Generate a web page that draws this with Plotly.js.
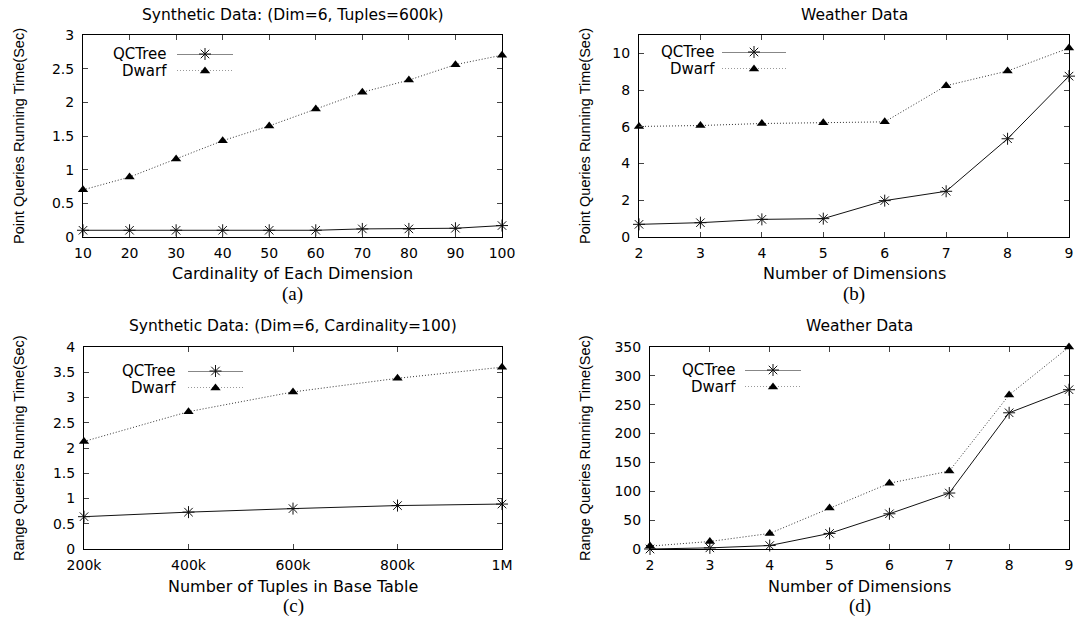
<!DOCTYPE html>
<html>
<head>
<meta charset="utf-8">
<script src="https://cdn.plot.ly/plotly-3.0.1.min.js"></script>
<style>html,body{margin:0;padding:0;background:#fff;}#chart{width:1080px;height:618px;}</style>
</head>
<body>
<div id="chart"></div>
<script>
// ---------- data ----------
const cardinality = [10, 20, 30, 40, 50, 60, 70, 80, 90, 100];
const pointSynQCTree = [0.10, 0.10, 0.10, 0.10, 0.10, 0.10, 0.12, 0.12, 0.13, 0.17];
const pointSynDwarf  = [0.70, 0.89, 1.16, 1.43, 1.65, 1.90, 2.15, 2.33, 2.56, 2.70];

const dimensions = [2, 3, 4, 5, 6, 7, 8, 9];
const pointWeaQCTree = [0.69, 0.78, 0.96, 1.00, 1.98, 2.49, 5.35, 8.76];
const pointWeaDwarf  = [6.02, 6.07, 6.18, 6.22, 6.27, 8.24, 9.04, 10.29];

const tuples = [200, 400, 600, 800, 1000];
const tupleLabels = ['200k', '400k', '600k', '800k', '1M'];
const rangeSynQCTree = [0.64, 0.73, 0.80, 0.86, 0.89];
const rangeSynDwarf  = [2.13, 2.72, 3.11, 3.38, 3.60];

const rangeWeaQCTree = [0, 2, 6, 27, 61, 97, 236, 276];
const rangeWeaDwarf  = [5, 13, 27, 71, 114, 135, 267, 350];

const panelTitles = ['Synthetic Data: (Dim=6, Tuples=600k)', 'Weather Data',
                     'Synthetic Data: (Dim=6, Cardinality=100)', 'Weather Data'];
const xTitles = ['Cardinality of Each Dimension', 'Number of Dimensions',
                 'Number of Tuples in Base Table', 'Number of Dimensions'];
const yTitles = ['Point Queries Running Time(Sec)', 'Point Queries Running Time(Sec)',
                 'Range Queries Running Time(Sec)', 'Range Queries Running Time(Sec)'];
const subLabels = ['(a)', '(b)', '(c)', '(d)'];
const seriesNames = ['QCTree', 'Dwarf'];

// ---------- layout helpers ----------
const W = 1080, H = 618;
const px = v => v / W;
const py = v => 1 - v / H;

// panel boxes in pixels [left, right, top, bottom]
const boxes = [[83, 502, 35, 237], [639, 1069, 35, 237], [84, 502, 347, 549], [650, 1069, 347, 549]];
// legend positions: [textRight, lineLeft, lineRight, yTop, yBottom]
const legends = [[168, 177, 233, 54, 71], [716, 722, 786, 52, 69], [177, 188, 243, 371, 388], [737, 745, 801, 370, 387]];

const FONT = 'DejaVu Sans, Verdana, sans-serif';
const VFONT = 'Liberation Sans, Arial, sans-serif';
const SERIF = 'Liberation Serif, Times New Roman, serif';
const qcStyle = {line: {color: '#111', width: 1}, marker: {symbol: 'asterisk-open', size: 10, color: '#111', line: {color: '#111', width: 1}}};
const dwStyle = {line: {color: '#333', width: 1, dash: '1px,2px'}, marker: {symbol: 'triangle-up', size: 9, color: '#000'}};

const panels = [
  {x: cardinality, q: pointSynQCTree, d: pointSynDwarf, yr: [0, 3], dy: 0.5, xr: [10, 100]},
  {x: dimensions, q: pointWeaQCTree, d: pointWeaDwarf, yr: [0, 11], dy: 2, xr: [2, 9]},
  {x: tuples, q: rangeSynQCTree, d: rangeSynDwarf, yr: [0, 4], dy: 0.5, xr: [200, 1000], tt: tupleLabels},
  {x: dimensions, q: rangeWeaQCTree, d: rangeWeaDwarf, yr: [0, 350], dy: 50, xr: [2, 9]}
];

const traces = [];
const layout = {
  width: W, height: H, margin: {l: 0, r: 0, t: 0, b: 0},
  paper_bgcolor: '#fff', plot_bgcolor: '#fff', showlegend: false,
  font: {family: FONT, size: 14, color: '#000'},
  annotations: []
};

panels.forEach((p, i) => {
  const n = i + 1;
  const xa = 'x' + (n === 1 ? '' : n), ya = 'y' + (n === 1 ? '' : n);
  const b = boxes[i];
  traces.push(Object.assign({type: 'scatter', mode: 'lines+markers', x: p.x, y: p.q, name: seriesNames[0], xaxis: xa, yaxis: ya, cliponaxis: false}, qcStyle));
  traces.push(Object.assign({type: 'scatter', mode: 'lines+markers', x: p.x, y: p.d, name: seriesNames[1], xaxis: xa, yaxis: ya, cliponaxis: false}, dwStyle));
  const common = {showline: true, linecolor: '#000', linewidth: 1, mirror: 'ticks', ticks: 'inside',
                  ticklen: 5, tickcolor: '#444', tickwidth: 1, showgrid: false, zeroline: false,
                  tickfont: {family: FONT, size: 14, color: '#000'}, fixedrange: true};
  const xKey = 'xaxis' + (n === 1 ? '' : n), yKey = 'yaxis' + (n === 1 ? '' : n);
  layout[xKey] = Object.assign({}, common, {domain: [px(b[0]), px(b[1])], range: p.xr, anchor: ya,
        tickvals: p.x, ticktext: p.tt ? p.tt : p.x.map(String), tickmode: 'array', ticklabelstandoff: 3});
  layout[yKey] = Object.assign({}, common, {domain: [py(b[3]), py(b[2])], range: p.yr, anchor: xa,
        dtick: p.dy, tick0: 0, ticklabelstandoff: 5});

  // legend sample axes
  const L = legends[i];
  const ln = n + 4;
  const lxa = 'x' + ln, lya = 'y' + ln;
  layout['xaxis' + ln] = {domain: [px(L[1]), px(L[2])], range: [0, 1], visible: false, anchor: lya, fixedrange: true};
  layout['yaxis' + ln] = {domain: [py(L[4]), py(L[3])], range: [0, 1], visible: false, anchor: lxa, fixedrange: true};
  traces.push(Object.assign({type: 'scatter', mode: 'lines', x: [0, 1], y: [1, 1], xaxis: lxa, yaxis: lya, hoverinfo: 'skip', cliponaxis: false}, {line: qcStyle.line}));
  traces.push(Object.assign({type: 'scatter', mode: 'markers', x: [0.5], y: [1], xaxis: lxa, yaxis: lya, hoverinfo: 'skip', cliponaxis: false}, {marker: qcStyle.marker}));
  traces.push(Object.assign({type: 'scatter', mode: 'lines', x: [0, 1], y: [0, 0], xaxis: lxa, yaxis: lya, hoverinfo: 'skip', cliponaxis: false}, {line: dwStyle.line}));
  traces.push(Object.assign({type: 'scatter', mode: 'markers', x: [0.5], y: [0], xaxis: lxa, yaxis: lya, hoverinfo: 'skip', cliponaxis: false}, {marker: dwStyle.marker}));
  layout.annotations.push({xref: 'paper', yref: 'paper', x: px(L[0]), y: py(L[3]), xanchor: 'right', yanchor: 'middle', text: seriesNames[0], showarrow: false, borderpad: 0, font: {family: FONT, size: 15}});
  layout.annotations.push({xref: 'paper', yref: 'paper', x: px(L[0]), y: py(L[4]), xanchor: 'right', yanchor: 'middle', text: seriesNames[1], showarrow: false, borderpad: 0, font: {family: FONT, size: 15}});

  const cx = (b[0] + b[1]) / 2, cy = (b[2] + b[3]) / 2;
  const top = i < 2 ? 0 : 311;
  layout.annotations.push({xref: 'paper', yref: 'paper', x: px(cx), y: py(top + 15), xanchor: 'center', yanchor: 'middle', text: panelTitles[i], showarrow: false, font: {family: FONT, size: 15.5}});
  layout.annotations.push({xref: 'paper', yref: 'paper', x: px(cx), y: py(b[3] + 37), xanchor: 'center', yanchor: 'middle', text: xTitles[i], showarrow: false, font: {family: FONT, size: 16}});
  layout.annotations.push({xref: 'paper', yref: 'paper', x: px(cx), y: py(b[3] + 57), xanchor: 'center', yanchor: 'middle', text: subLabels[i], showarrow: false, font: {family: SERIF, size: 19}});
  layout.annotations.push({xref: 'paper', yref: 'paper', x: px(i % 2 === 0 ? 19 : 585), y: py(cy), xanchor: 'center', yanchor: 'middle', textangle: -90, text: yTitles[i], showarrow: false, font: {family: VFONT, size: 14.5}});
});

Plotly.newPlot('chart', traces, layout, {displayModeBar: false, staticPlot: true});
</script>
</body>
</html>
